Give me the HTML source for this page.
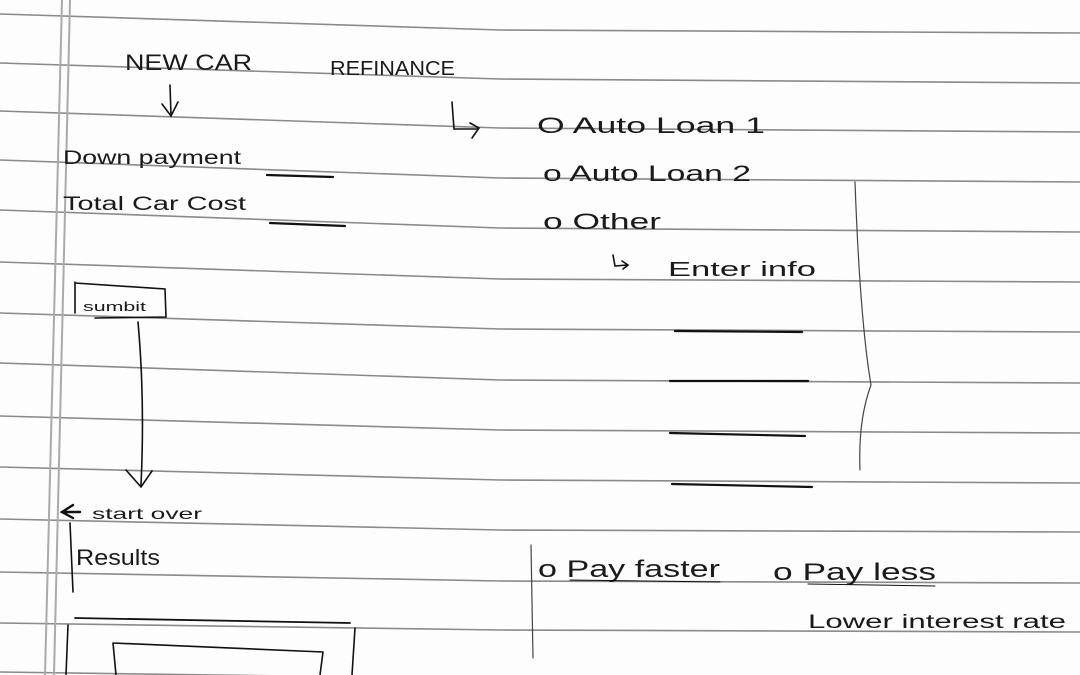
<!DOCTYPE html>
<html><head><meta charset="utf-8"><style>
html,body{margin:0;padding:0;background:#fff;}
svg{display:block}
text{font-family:"Liberation Sans",sans-serif;fill:#1a1a1a;font-weight:normal}
</style></head><body>
<svg width="1080" height="675" viewBox="0 0 1080 675" xmlns="http://www.w3.org/2000/svg">
<rect width="1080" height="675" fill="#fdfdfd"/>
<g stroke="#8a8a8a" stroke-width="1.6" fill="none">
<polyline points="0,14 500,30 1080,33"/>
<polyline points="0,63 500,79 1080,83"/>
<polyline points="0,111 500,128 1080,132"/>
<polyline points="0,160 500,178 1080,182"/>
<polyline points="0,210 500,228 1080,232"/>
<polyline points="0,262 500,279 1080,282"/>
<polyline points="0,313 500,329 1080,332"/>
<polyline points="0,363 500,380 1080,383"/>
<polyline points="0,416 500,430 1080,433"/>
<polyline points="0,467 500,480 1080,483"/>
<polyline points="0,519 500,530 1080,532"/>
<polyline points="0,572 500,581 1080,583"/>
<polyline points="0,623 500,630 1080,632"/>
<polyline points="0,672 500,679 1080,682"/>
</g>
<g stroke="#aaa" stroke-width="2" fill="none">
<line x1="62" y1="0" x2="45" y2="675"/>
<line x1="70" y1="0" x2="54" y2="675"/>
</g>
<g font-size="22">
<text x="125" y="70" textLength="127" lengthAdjust="spacingAndGlyphs">NEW CAR</text>
<text x="330" y="75" textLength="125" lengthAdjust="spacingAndGlyphs" font-size="20">REFINANCE</text>
<text x="63" y="164" textLength="178" lengthAdjust="spacingAndGlyphs" font-size="19">Down payment</text>
<text x="63" y="210" textLength="183" lengthAdjust="spacingAndGlyphs" font-size="19">Total Car Cost</text>
<text x="537" y="133" textLength="228" lengthAdjust="spacingAndGlyphs">O Auto Loan 1</text>
<text x="543" y="181" textLength="208" lengthAdjust="spacingAndGlyphs">o Auto Loan 2</text>
<text x="543" y="229" textLength="118" lengthAdjust="spacingAndGlyphs">o Other</text>
<text x="668" y="276" textLength="148" lengthAdjust="spacingAndGlyphs" font-size="20">Enter info</text>
<text x="538" y="577" textLength="182" lengthAdjust="spacingAndGlyphs" font-size="24">o Pay faster</text>
<text x="773" y="580" textLength="163" lengthAdjust="spacingAndGlyphs" font-size="24">o Pay less</text>
<text x="808" y="628" textLength="258" lengthAdjust="spacingAndGlyphs" font-size="19">Lower interest rate</text>
<text x="92" y="519" textLength="110" lengthAdjust="spacingAndGlyphs" font-size="16">start over</text>
<text x="76" y="565" textLength="84" lengthAdjust="spacingAndGlyphs" font-size="22">Results</text>
<text x="83" y="311" textLength="63" lengthAdjust="spacingAndGlyphs" font-size="13">sumbit</text>
</g>
<g stroke="#111" stroke-width="1.6" fill="none" stroke-linecap="round">
<path d="M170,85 L171,115 M162,104 L171,116 L178,102"/>
<path d="M267,175 L333,177" stroke-width="2.2"/>
<path d="M270,223 L345,226" stroke-width="2.2"/>
<path d="M75,282 L75,313 M75,283 L165,289 L166,317 L95,318"/>
<path d="M138,322 Q145,400 141,485 M126,470 L141,487 L152,471"/>
<path d="M73,505 L62,512 L73,518 M62,512 L80,512" stroke-width="2.4"/>
<path d="M70,523 L73,592"/>
<path d="M75,618 L350,623" stroke-width="1.8"/>
<path d="M68,625 L66,675 M355,628 L352,675"/>
<path d="M113,643 L323,652 M113,643 L116,675 M323,652 L320,675"/>
<path d="M452,102 L454,129 L478,129 M470,123 L479,128 L472,138"/>
<path d="M613,255 L615,266 L627,265 M622,261 L628,265 L623,269"/>
<path d="M675,331 L802,332" stroke-width="2.2"/>
<path d="M670,381 L808,381" stroke-width="2.2"/>
<path d="M670,433 L805,436" stroke-width="2.2"/>
<path d="M672,484 L812,487" stroke-width="2.2"/>
<path d="M855,182 Q860,320 871,385 Q858,420 860,470" stroke="#444" stroke-width="1.2"/>
<path d="M531,545 L533,658" stroke="#444" stroke-width="1.2"/>
<path d="M570,580 L720,582 M808,584 L935,586" stroke-width="1"/>
</g>
</svg>
</body></html>
